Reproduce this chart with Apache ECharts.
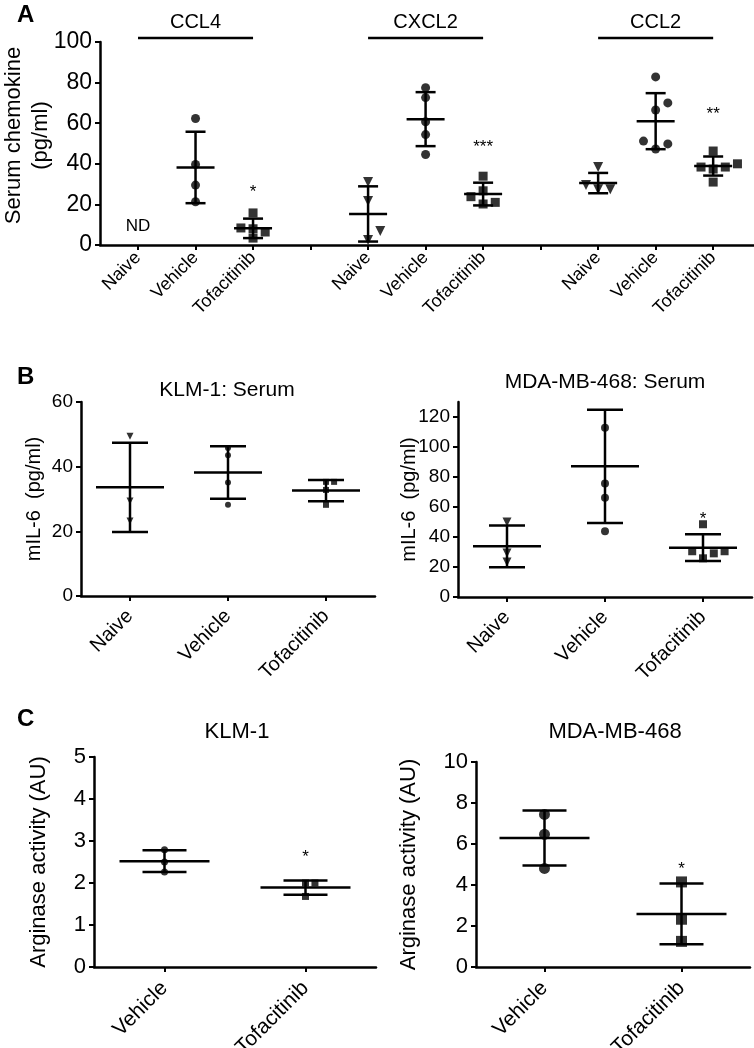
<!DOCTYPE html>
<html>
<head>
<meta charset="utf-8">
<script src="https://cdn.jsdelivr.net/npm/echarts@6/dist/echarts.min.js"></script>
<style>
html, body { margin: 0; padding: 0; background: #fff; }
#chart { width: 754px; height: 1048px; }
</style>
</head>
<body>
<div id="chart"></div>
<script>
// ---- data ----
const treatments = ['Naive', 'Vehicle', 'Tofacitinib']
const chemokines = ['CCL4', 'CXCL2', 'CCL2']

// A: serum chemokine, pg/ml, one array per group (Naive, Vehicle, Tofacitinib)
const ccl4 = [[], [62.3, 39.7, 29.5, 21.3], [15.8, 8.4, 8.0, 6.4, 3.4]]
const cxcl2 = [[31, 21.7, 6.9, 2.5], [77.5, 72.6, 60.7, 54.4, 44.6], [33.9, 26.7, 23.8, 20.2, 21]]
const ccl2 = [[38.4, 29.5, 27.5, 27.5], [82.8, 70, 66.5, 51.2, 49.8, 47.3], [46.3, 40, 38.4, 37.4, 38.4, 31]]
const chemMean = [[null, 38.2, 8.2], [15.3, 62, 25.1], [30.5, 61, 38.9]]
const chemSd = [[null, 17.6, 4.8], [13.6, 13.3, 5.6], [5, 13.8, 4.7]]
const chemStars = ['*', '***', '**']
const chemStarY = [27.9, 50, 66.4]

// B: mIL-6, pg/ml
const klmIl6 = [[49.4, 29.4, 23.2], [45.8, 43.5, 35.1, 28.2], [35.3, 35.3, 32.8, 28.2]]
const klmIl6Mean = [33.6, 38.2, 32.6]
const klmIl6Sd = [13.8, 8.1, 3.3]
const mdaIl6 = [[50, 29.3, 23.3], [112.9, 75.6, 66.2, 43.8], [48.5, 30.5, 25.8, 29.1, 30.5]]
const mdaIl6Mean = [33.8, 87.1, 32.9]
const mdaIl6Sd = [13.9, 37.7, 8.9]
const mdaIl6StarY = 54.4

// C: arginase activity, AU
const arginaseGroups = ['Vehicle', 'Tofacitinib']
const klmArg = [[2.79, 2.5, 2.26], [2.0, 2.0, 1.68]]
const klmArgMean = [2.52, 1.89]
const klmArgSd = [0.26, 0.17]
const klmArgStarY = 2.71
const mdaArg = [[7.44, 6.47, 4.81], [4.15, 2.33, 1.25]]
const mdaArgMean = [6.29, 2.59]
const mdaArgSd = [1.34, 1.48]
const mdaArgStarY = 4.97

// ---- helpers ----
const FONT = 'Liberation Sans, Arial, Helvetica, sans-serif'
const BLACK = '#000'
const groupSymbols = [['triangle', 180], ['circle', 0], ['rect', 0]]

// simple beeswarm so overlapping dots sit side by side like in Prism
function swarm(vals, pxPerUnit, size) {
  const placed = []
  const off = []
  const order = vals.map((v, i) => i).sort((a, b) => vals[a] - vals[b])
  const step = size * 1.35
  order.forEach(i => {
    const y = vals[i] * pxPerUnit
    for (let k = 0; k < 20; k++) {
      const dx = k === 0 ? 0 : (k % 2 ? 1 : -1) * Math.ceil(k / 2) * step
      if (placed.every(p => Math.hypot(p[0] - dx, p[1] - y) >= size)) {
        placed.push([dx, y])
        off[i] = dx
        break
      }
    }
  })
  return off
}

function pointSeries(gi, x, vals, sym, size, pxPerUnit) {
  const offs = swarm(vals, pxPerUnit, size)
  return {
    type: 'scatter',
    xAxisIndex: gi,
    yAxisIndex: gi,
    symbol: sym[0],
    symbolRotate: sym[1],
    symbolSize: sym[0] === 'triangle' ? size + 1 : size,
    itemStyle: { color: BLACK },
    silent: true,
    z: 3,
    data: vals.map((v, i) => ({ value: [x, v], symbolOffset: [offs[i], 0] }))
  }
}

function errorSeries(gi, xs, means, sds, halfMean, halfCap) {
  const data = []
  xs.forEach((x, i) => {
    if (means[i] != null) data.push([x, means[i], sds[i]])
  })
  return {
    type: 'custom',
    xAxisIndex: gi,
    yAxisIndex: gi,
    silent: true,
    z: 4,
    encode: { x: 0, y: 1 },
    renderItem(params, api) {
      const x = api.value(0)
      const m = api.value(1)
      const s = api.value(2)
      const c = api.coord([x, m])
      const hi = api.coord([x, m + s])
      const lo = api.coord([x, m - s])
      const style = { stroke: BLACK, lineWidth: 2.5 }
      const seg = (x1, y1, x2, y2) => ({ type: 'line', shape: { x1, y1, x2, y2 }, style })
      return {
        type: 'group',
        children: [
          seg(c[0] - halfMean, c[1], c[0] + halfMean, c[1]),
          seg(c[0], hi[1], c[0], lo[1]),
          seg(c[0] - halfCap, hi[1], c[0] + halfCap, hi[1]),
          seg(c[0] - halfCap, lo[1], c[0] + halfCap, lo[1])
        ]
      }
    },
    data
  }
}

function textSeries(gi, xs, ys, labels, fontSize, dy) {
  return {
    type: 'custom',
    xAxisIndex: gi,
    yAxisIndex: gi,
    silent: true,
    z: 5,
    encode: { x: 0, y: 1 },
    renderItem(params, api) {
      const p = api.coord([api.value(0), api.value(1)])
      return {
        type: 'text',
        x: p[0],
        y: p[1] + dy,
        style: {
          text: labels[params.dataIndex],
          fill: BLACK,
          font: fontSize + 'px ' + FONT,
          align: 'center',
          verticalAlign: 'middle'
        }
      }
    },
    data: xs.map((x, i) => [x, ys[i]])
  }
}

function yAxisOf(gi, max, interval, name, nameGap, fontSize, extra) {
  return Object.assign({
    gridIndex: gi,
    type: 'value',
    min: 0,
    max: max,
    interval: interval,
    name: name,
    nameLocation: 'middle',
    nameGap: nameGap,
    nameMoveOverlap: false,
    nameTextStyle: { fontFamily: FONT, fontSize: fontSize, color: BLACK, lineHeight: fontSize + 5 },
    axisLine: { show: true, lineStyle: { color: BLACK, width: 2.5 } },
    axisTick: { show: true, length: 5, lineStyle: { color: BLACK, width: 2 } },
    axisLabel: { fontFamily: FONT, fontSize: fontSize, color: BLACK, margin: 8 },
    splitLine: { show: false }
  }, extra || {})
}

function catAxisOf(gi, cats, fontSize, margin) {
  return {
    gridIndex: gi,
    type: 'category',
    data: cats,
    boundaryGap: true,
    axisLine: { show: true, lineStyle: { color: BLACK, width: 2.5 } },
    axisTick: { show: true, alignWithLabel: true, length: 5, lineStyle: { color: BLACK, width: 2 } },
    axisLabel: { fontFamily: FONT, fontSize: fontSize, color: BLACK, rotate: 45, margin: margin, interval: 0 },
    splitLine: { show: false }
  }
}

// ---- layout ----
const grids = [
  { left: 100, top: 42, width: 654, height: 203 },
  { left: 81, top: 402, width: 294, height: 194 },
  { left: 458, top: 402, width: 294, height: 195 },
  { left: 94, top: 757, width: 282, height: 210 },
  { left: 476, top: 762, width: 274, height: 205 }
].map(g => Object.assign({ outerBoundsMode: 'none', containLabel: false }, g))
const yMax = [100, 60, 130, 5, 10]
const pxPer = grids.map((g, i) => g.height / yMax[i])

// panel A: x positions 1..11, with an empty slot between chemokines
const chemData = [ccl4, cxcl2, ccl2]
const posA = (g, t) => 1 + g * 4 + t
const tickA = [1, 2, 3, 4, 5, 6, 7, 8, 9, 10, 11]
const labelA = tickA.filter(v => v % 4 !== 0)

const series = []
chemData.forEach((groups, g) => {
  groups.forEach((vals, t) => {
    if (vals.length) series.push(pointSeries(0, posA(g, t), vals, groupSymbols[t], 9, pxPer[0]))
  })
  series.push(errorSeries(0, [0, 1, 2].map(t => posA(g, t)), chemMean[g], chemSd[g], 19, 10))
})
series.push(textSeries(0, [0, 1, 2].map(g => posA(g, 2)), chemStarY, chemStars, 17, 4))
series.push(textSeries(0, [posA(0, 0)], [9], ['ND'], 17, 0))
// chemokine headers with bars above the plot
series.push({
  type: 'custom',
  xAxisIndex: 0,
  yAxisIndex: 0,
  silent: true,
  encode: { x: [0, 1] },
  renderItem(params, api) {
    const a = api.coord([api.value(0), 100])
    const b = api.coord([api.value(1), 100])
    const y = params.coordSys.y
    return {
      type: 'group',
      children: [
        { type: 'line', shape: { x1: a[0], y1: y - 4, x2: b[0], y2: y - 4 }, style: { stroke: BLACK, lineWidth: 2.5 } },
        { type: 'text', x: (a[0] + b[0]) / 2, y: y - 20, style: { text: chemokines[params.dataIndex], fill: BLACK, font: '20px ' + FONT, align: 'center', verticalAlign: 'middle' } }
      ]
    }
  },
  data: chemokines.map((c, g) => [posA(g, 0), posA(g, 2)])
})

// panel B
;[[1, klmIl6, klmIl6Mean, klmIl6Sd, 6], [2, mdaIl6, mdaIl6Mean, mdaIl6Sd, 8]].forEach(p => {
  p[1].forEach((vals, t) => series.push(pointSeries(p[0], t, vals, groupSymbols[t], p[4], pxPer[p[0]])))
  series.push(errorSeries(p[0], [0, 1, 2], p[2], p[3], 34, 18))
})
series.push(textSeries(2, [2], [mdaIl6StarY], ['*'], 17, 4))

// panel C
;[[3, klmArg, klmArgMean, klmArgSd, 7, klmArgStarY], [4, mdaArg, mdaArgMean, mdaArgSd, 11, mdaArgStarY]].forEach(p => {
  p[1].forEach((vals, t) => series.push(pointSeries(p[0], t, vals, groupSymbols[t + 1], p[4], pxPer[p[0]])))
  series.push(errorSeries(p[0], [0, 1], p[2], p[3], 45, 22))
  series.push(textSeries(p[0], [1], [p[5]], ['*'], 17, 4))
})

const option = {
  animation: false,
  backgroundColor: '#fff',
  textStyle: { fontFamily: FONT },
  grid: grids,
  xAxis: [
    {
      gridIndex: 0,
      type: 'value',
      scale: true,
      min: 0.339,
      max: 11.71,
      axisLine: { show: true, lineStyle: { color: BLACK, width: 2.5 } },
      axisTick: { show: true, length: 5, customValues: tickA, lineStyle: { color: BLACK, width: 2 } },
      axisLabel: {
        customValues: labelA,
        fontFamily: FONT,
        fontSize: 18,
        color: BLACK,
        rotate: 45,
        margin: 10,
        formatter: v => treatments[(Math.round(v) - 1) % 4]
      },
      splitLine: { show: false }
    },
    catAxisOf(1, treatments, 20, 17),
    catAxisOf(2, treatments, 20, 17),
    catAxisOf(3, arginaseGroups, 21, 18),
    catAxisOf(4, arginaseGroups, 21, 18)
  ],
  yAxis: [
    yAxisOf(0, 100, 20, 'Serum chemokine\n(pg/ml)', 46, 23, {
      nameTextStyle: { fontFamily: FONT, fontSize: 22, color: BLACK, lineHeight: 27, padding: [0, 0, 0, 16] }
    }),
    yAxisOf(1, 60, 20, 'mIL-6  (pg/ml)', 37, 19, {
      nameTextStyle: { fontFamily: FONT, fontSize: 20, color: BLACK }
    }),
    yAxisOf(2, 130, 10, 'mIL-6  (pg/ml)', 39, 19, {
      nameTextStyle: { fontFamily: FONT, fontSize: 20, color: BLACK },
      axisTick: { show: true, length: 5, customValues: [0, 20, 40, 60, 80, 100, 120], lineStyle: { color: BLACK, width: 2 } },
      axisLabel: { fontFamily: FONT, fontSize: 19, color: BLACK, margin: 8, customValues: [0, 20, 40, 60, 80, 100, 120] }
    }),
    yAxisOf(3, 5, 1, 'Arginase activity (AU)', 42, 22),
    yAxisOf(4, 10, 2, 'Arginase activity (AU)', 54, 22)
  ],
  graphic: [
    { type: 'text', left: 17, top: 3, style: { text: 'A', font: 'bold 24px ' + FONT, fill: BLACK } },
    { type: 'text', left: 17, top: 365, style: { text: 'B', font: 'bold 24px ' + FONT, fill: BLACK } },
    { type: 'text', left: 17, top: 707, style: { text: 'C', font: 'bold 24px ' + FONT, fill: BLACK } },
    { type: 'text', x: 227, y: 390, style: { text: 'KLM-1: Serum', font: '21px ' + FONT, fill: BLACK, align: 'center', verticalAlign: 'middle' } },
    { type: 'text', x: 605, y: 382, style: { text: 'MDA-MB-468: Serum', font: '21px ' + FONT, fill: BLACK, align: 'center', verticalAlign: 'middle' } },
    { type: 'text', x: 237, y: 732, style: { text: 'KLM-1', font: '22px ' + FONT, fill: BLACK, align: 'center', verticalAlign: 'middle' } },
    { type: 'text', x: 615, y: 732, style: { text: 'MDA-MB-468', font: '22px ' + FONT, fill: BLACK, align: 'center', verticalAlign: 'middle' } }
  ],
  series: series
}

const myChart = echarts.init(document.getElementById('chart'))
myChart.setOption(option)
</script>
</body>
</html>
